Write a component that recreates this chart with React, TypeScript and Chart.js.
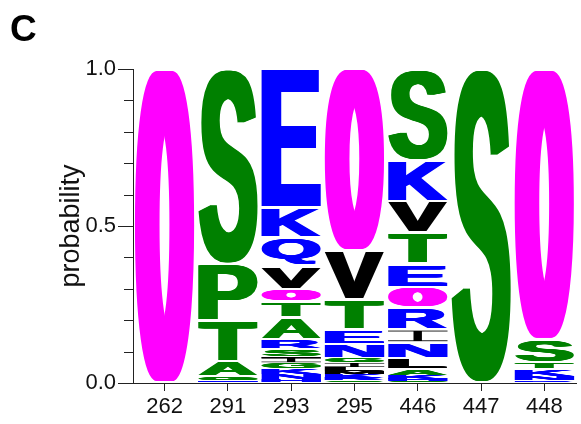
import React, { useEffect, useRef } from 'react';
import { Chart, registerables } from 'chart.js';

Chart.register(...registerables);

// ---- data ----
const positions = ['262', '291', '293', '295', '446', '447', '448'];

// letters listed from top of the stack to bottom, with their probabilities
const letters262 = ['O'];
const probs262 = [1.0];

const letters291 = ['S', 'P', 'T', 'A', 'G', 'K', 'N'];
const probs291 = [0.62, 0.18, 0.13, 0.05, 0.01, 0.006, 0.004];

const letters293 = ['E', 'K', 'Q', 'V', 'O', 'T', 'A', 'R', 'S', 'M', 'I', 'G', 'K', 'N', 'H'];
const probs293 = [0.44, 0.095, 0.09, 0.075, 0.04, 0.05, 0.07, 0.03, 0.025, 0.005, 0.015, 0.02, 0.018, 0.017, 0.01];

const letters295 = ['O', 'V', 'T', 'E', 'N', 'G', 'I', 'L', 'M', 'K', 'R', 'S'];
const probs295 = [0.58, 0.155, 0.095, 0.045, 0.045, 0.015, 0.015, 0.012, 0.01, 0.012, 0.008, 0.008];

const letters446 = ['S', 'K', 'V', 'T', 'E', 'O', 'R', 'I', 'N', 'L', 'A', 'K', 'H', 'G'];
const probs446 = [0.29, 0.13, 0.1, 0.1, 0.075, 0.065, 0.07, 0.04, 0.05, 0.035, 0.02, 0.012, 0.008, 0.005];

const letters447 = ['S'];
const probs447 = [1.0];

const letters448 = ['O', 'S', 'T', 'K', 'N', 'R'];
const probs448 = [0.86, 0.075, 0.02, 0.025, 0.012, 0.008];

const columnLetters = [letters262, letters291, letters293, letters295, letters446, letters447, letters448];
const columnProbs = [probs262, probs291, probs293, probs295, probs446, probs447, probs448];

const yMajorTicks = [0, 0.5, 1.0];
const yMinorTicks = [0.1, 0.2, 0.3, 0.4, 0.6, 0.7, 0.8, 0.9];
const panelLabel = 'C';
const yAxisTitle = 'probability';

// ---- styles ----
const MAGENTA = '#ff00ff';
const GREEN = '#008000';
const BLUE = '#0000ff';
const BLACK = '#000000';
const letterColors: Record<string, string> = {
  O: MAGENTA,
  S: GREEN, P: GREEN, T: GREEN, A: GREEN, G: GREEN,
  E: BLUE, K: BLUE, Q: BLUE, R: BLUE, N: BLUE, H: BLUE,
  V: BLACK, I: BLACK, L: BLACK, M: BLACK,
};
const FAMILY = '"Liberation Sans", Arial, Helvetica, sans-serif';
const AXIS_COLOR = '#222222';
const GLYPH_FONT = `bold 200px ${FAMILY}`;

const glyphCache: Record<string, { l: number; r: number; a: number; d: number }> = {};
function glyph(ctx: CanvasRenderingContext2D, ch: string) {
  if (!glyphCache[ch]) {
    const m = ctx.measureText(ch);
    glyphCache[ch] = {
      l: m.actualBoundingBoxLeft,
      r: m.actualBoundingBoxRight,
      a: m.actualBoundingBoxAscent,
      d: m.actualBoundingBoxDescent,
    };
  }
  return glyphCache[ch];
}

const logoPlugin = {
  id: 'logoLetters',
  afterDatasetsDraw(chart: any) {
    const ctx: CanvasRenderingContext2D = chart.ctx;
    ctx.save();
    ctx.font = GLYPH_FONT;
    ctx.textAlign = 'left';
    ctx.textBaseline = 'alphabetic';
    chart.data.datasets.forEach((ds: any, di: number) => {
      const meta = chart.getDatasetMeta(di);
      meta.data.forEach((el: any, j: number) => {
        const ch = ds.letters[j];
        if (!ch) return;
        const p = el.getProps(['x', 'y', 'base', 'width'], true);
        let top = Math.min(p.y, p.base);
        let h = Math.abs(p.base - p.y);
        if (h <= 0.05) return;
        const inset = Math.min(1.3, h * 0.08);
        top += inset;
        h -= 2 * inset;
        const g = glyph(ctx, ch);
        const gw = g.l + g.r;
        const gh = g.a + g.d;
        const full = p.width;
        const W = ch === 'I' ? full * 0.14 : full;
        const k = ch === 'O' ? W * 0.13 : ch === 'I' ? 0 : W * 0.05;
        const left = p.x - W / 2;
        ctx.fillStyle = letterColors[ch] || BLACK;
        if (ch === 'I') {
          // thin caps across the full column width, as in the logo's I glyph
          const bar = Math.max(0.6, h * 0.08);
          ctx.fillRect(p.x - full / 2, top, full, bar);
          ctx.fillRect(p.x - full / 2, top + h - bar, full, bar);
        }
        const steps = Math.max(1, Math.ceil(2 * k));
        for (let s = 0; s <= steps; s++) {
          const dx = k === 0 ? 0 : -k + (2 * k * s) / steps;
          ctx.save();
          ctx.translate(left + k + dx, top);
          ctx.scale((W - 2 * k) / gw, h / gh);
          ctx.fillText(ch, g.l, g.a);
          ctx.restore();
        }
      });
    });
    ctx.restore();
  },
  afterDraw(chart: any) {
    const ctx: CanvasRenderingContext2D = chart.ctx;
    const yScale = chart.scales.y;
    const left = chart.chartArea.left;
    ctx.save();
    ctx.strokeStyle = AXIS_COLOR;
    ctx.lineWidth = 1;
    ctx.beginPath();
    yMinorTicks.forEach((v) => {
      const py = Math.round(yScale.getPixelForValue(v)) + 0.5;
      ctx.moveTo(left - 9, py);
      ctx.lineTo(left, py);
    });
    ctx.stroke();
    ctx.fillStyle = '#000';
    ctx.font = `bold 37px ${FAMILY}`;
    ctx.textAlign = 'left';
    ctx.textBaseline = 'alphabetic';
    ctx.fillText(panelLabel, 10, 41);
    ctx.restore();
  },
};

export default function App() {
  const ref = useRef<HTMLCanvasElement | null>(null);
  useEffect(() => {
    if (!ref.current) return;
    const maxLen = Math.max(...columnLetters.map((l) => l.length));
    const datasets: any[] = [];
    for (let i = 0; i < maxLen; i++) {
      // level i counted from the bottom of each stack
      const data = columnLetters.map((ls, c) => (i < ls.length ? columnProbs[c][ls.length - 1 - i] : 0));
      const letters = columnLetters.map((ls) => (i < ls.length ? ls[ls.length - 1 - i] : ''));
      datasets.push({
        data,
        letters,
        backgroundColor: 'rgba(0,0,0,0)',
        borderWidth: 0,
        categoryPercentage: 1,
        barPercentage: 0.94,
      });
    }
    const chart = new Chart(ref.current, {
      type: 'bar',
      data: { labels: positions, datasets },
      options: {
        responsive: false,
        animation: false,
        events: [],
        layout: { padding: { left: 0, top: 69, right: 5, bottom: 0 } },
        plugins: { legend: { display: false }, tooltip: { enabled: false } },
        scales: {
          x: {
            type: 'category',
            stacked: true,
            offset: true,
            afterFit: (s: any) => { s.height = 41; },
            grid: { display: true, drawOnChartArea: false, drawTicks: true, tickLength: 8, offset: false, color: AXIS_COLOR },
            border: { display: true, color: AXIS_COLOR, width: 1 },
            ticks: { color: '#111', font: { family: FAMILY, size: 22 }, padding: 3, maxRotation: 0, autoSkip: false },
          },
          y: {
            type: 'linear',
            stacked: true,
            min: 0,
            max: 1,
            afterFit: (s: any) => { s.width = 133; },
            afterBuildTicks: (s: any) => { s.ticks = yMajorTicks.map((v) => ({ value: v })); },
            grid: { display: true, drawOnChartArea: false, drawTicks: true, tickLength: 15, color: AXIS_COLOR },
            border: { display: true, color: AXIS_COLOR, width: 1 },
            ticks: {
              color: '#111',
              font: { family: FAMILY, size: 22 },
              padding: 2,
              callback: (v: any) => Number(v).toFixed(1),
            },
            title: {
              display: true,
              text: yAxisTitle,
              color: '#111',
              font: { family: FAMILY, size: 27 },
              padding: { top: 55, bottom: 0 },
            },
          },
        },
      },
      plugins: [logoPlugin],
    } as any);
    return () => chart.destroy();
  }, []);
  return (
    <div style={{ position: 'absolute', left: 0, top: 0, width: 581, height: 424, background: '#fff' }}>
      <canvas ref={ref} width={581} height={424} style={{ display: 'block' }} />
    </div>
  );
}
